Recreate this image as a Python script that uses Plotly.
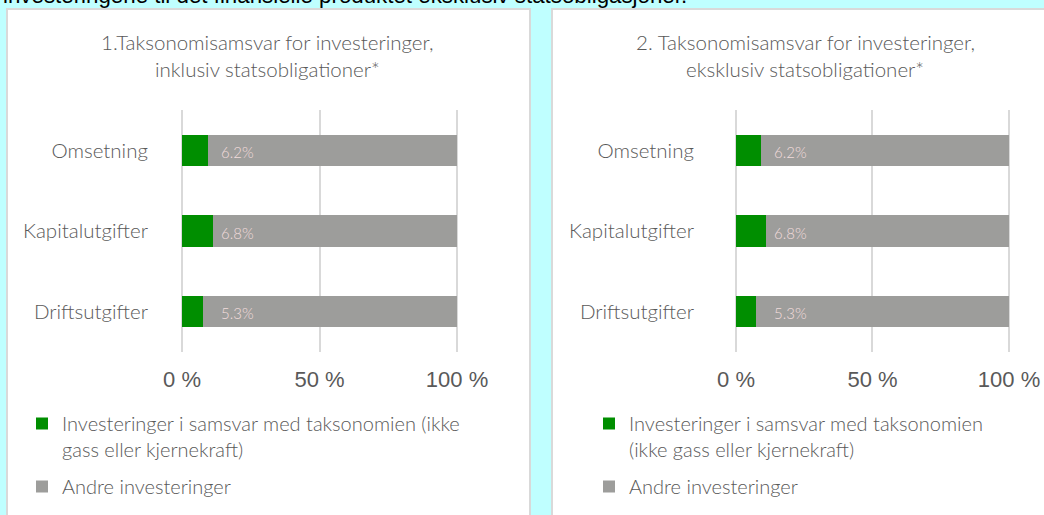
import plotly.graph_objects as go

W, H = 1044, 515

categories = ["Omsetning", "Kapitalutgifter", "Driftsutgifter"]
aligned_incl = [9.4, 11.2, 7.7]
other_incl = [90.6, 88.8, 92.3]
aligned_excl = [9.2, 11.0, 7.4]
other_excl = [90.8, 89.0, 92.6]
labels_incl = ["6.2%", "6.8%", "5.3%"]
labels_excl = ["6.2%", "6.8%", "5.3%"]
tick_vals = [0, 50, 100]
tick_text = ["0 %", "50 %", "100 %"]

title_incl = ["1.Taksonomisamsvar for investeringer,", "inklusiv statsobligationer*"]
title_excl = ["2. Taksonomisamsvar for investeringer,", "eksklusiv statsobligationer*"]
legend_incl = ["Investeringer i samsvar med taksonomien (ikke<br>gass eller kjernekraft)", "Andre investeringer"]
legend_excl = ["Investeringer i samsvar med taksonomien<br>(ikke gass eller kjernekraft)", "Andre investeringer"]
top_text = "investeringene til det finansielle produktet eksklusiv statsobligasjoner."

GREEN = "#008E00"
GREY = "#9D9D9B"
TXT = "#595959"
LBL = "#F2DCDB"
BG = "#BFFFFF"
BORDER = "#D9D9D9"
CAL = "Lato, 'Open Sans', sans-serif"
ARI = "'Liberation Sans', Arial, sans-serif"


def px(x):
    return x / W


def py(y):
    return 1 - y / H


fig = go.Figure()

fig.add_trace(go.Bar(y=categories, x=aligned_incl, orientation="h", name=legend_incl[0],
                     marker=dict(color=GREEN, line=dict(width=0)), width=0.385,
                     xaxis="x", yaxis="y", legend="legend", legendgroup="a1"))
fig.add_trace(go.Bar(y=categories, x=other_incl, orientation="h", name=legend_incl[1],
                     marker=dict(color=GREY, line=dict(width=0)), width=0.385,
                     xaxis="x", yaxis="y", legend="legend", legendgroup="b1"))
fig.add_trace(go.Bar(y=categories, x=aligned_excl, orientation="h", name=legend_excl[0],
                     marker=dict(color=GREEN, line=dict(width=0)), width=0.385,
                     xaxis="x2", yaxis="y2", legend="legend2", legendgroup="a2"))
fig.add_trace(go.Bar(y=categories, x=other_excl, orientation="h", name=legend_excl[1],
                     marker=dict(color=GREY, line=dict(width=0)), width=0.385,
                     xaxis="x2", yaxis="y2", legend="legend2", legendgroup="b2"))

ydom = [py(352), py(110)]
PAD = 0.4
xcommon = dict(range=[-PAD, 100 + PAD], tickvals=tick_vals, ticktext=tick_text, showgrid=True,
               gridcolor=BORDER, gridwidth=2, zeroline=False, showline=False, ticks="",
               tickfont=dict(family=ARI, size=22, color=TXT), ticklabelstandoff=12,
               fixedrange=True, automargin=False)
ycommon = dict(autorange="reversed", showgrid=False, zeroline=False, showline=False, ticks="",
               tickfont=dict(family=CAL, size=20.5, color=TXT, weight=300), domain=ydom,
               fixedrange=True, automargin=False)


def xdom(a, b):
    s = (b - a) / 100.0
    return [px(a - PAD * s), px(b + PAD * s)]


LEGFONT = dict(family=CAL, size=20, color=TXT, weight=300)

fig.update_layout(
    width=W, height=H,
    margin=dict(l=0, r=0, t=0, b=0, autoexpand=False),
    paper_bgcolor=BG, plot_bgcolor="rgba(0,0,0,0)",
    barmode="stack", bargap=0.6,
    xaxis=dict(domain=xdom(182, 457), anchor="y", **xcommon),
    xaxis2=dict(domain=xdom(736, 1009), anchor="y2", **xcommon),
    yaxis=dict(anchor="x", ticklabelstandoff=32, **ycommon),
    yaxis2=dict(anchor="x2", ticklabelstandoff=40, **ycommon),
    legend=dict(x=px(22), y=py(404), xanchor="left", yanchor="top", valign="top",
                font=LEGFONT, bgcolor="rgba(0,0,0,0)",
                tracegroupgap=8, itemclick=False, itemdoubleclick=False),
    legend2=dict(x=px(589), y=py(404), xanchor="left", yanchor="top", valign="top",
                 font=LEGFONT, bgcolor="rgba(0,0,0,0)",
                 tracegroupgap=8, itemclick=False, itemdoubleclick=False),
    showlegend=True,
)

# panels
fig.add_shape(type="rect", xref="paper", yref="paper", x0=px(7), x1=px(530), y0=py(530), y1=py(9),
              fillcolor="white", line=dict(color=BORDER, width=2), layer="below")
fig.add_shape(type="rect", xref="paper", yref="paper", x0=px(552), x1=px(1060), y0=py(530), y1=py(9),
              fillcolor="white", line=dict(color=BORDER, width=2), layer="below")

# top text (cut off)
fig.add_annotation(text=top_text, xref="paper", yref="paper", x=px(1), y=py(10),
                   xanchor="left", yanchor="bottom", showarrow=False,
                   font=dict(family=ARI, size=22.3, color="#000000"))

# titles
for lines, cx in ((title_incl, 267), (title_excl, 805)):
    for i, t in enumerate(lines):
        fig.add_annotation(text=t, xref="paper", yref="paper", x=px(cx), y=py(42 + 27 * i),
                           xanchor="center", yanchor="middle", showarrow=False,
                           font=dict(family=CAL, size=20.5, color=TXT, weight=300))

# bar labels
for labs, xa, ya, lx in ((labels_incl, "x", "y", 13.4), (labels_excl, "x2", "y2", 13.2)):
    for c, t in zip(categories, labs):
        fig.add_annotation(text=t, xref=xa, yref=ya, x=lx, y=c, xanchor="left", yanchor="middle",
                           showarrow=False, yshift=-1.5,
                           font=dict(family=CAL, size=15, color=LBL, weight=300))

fig.write_html("out.html")
